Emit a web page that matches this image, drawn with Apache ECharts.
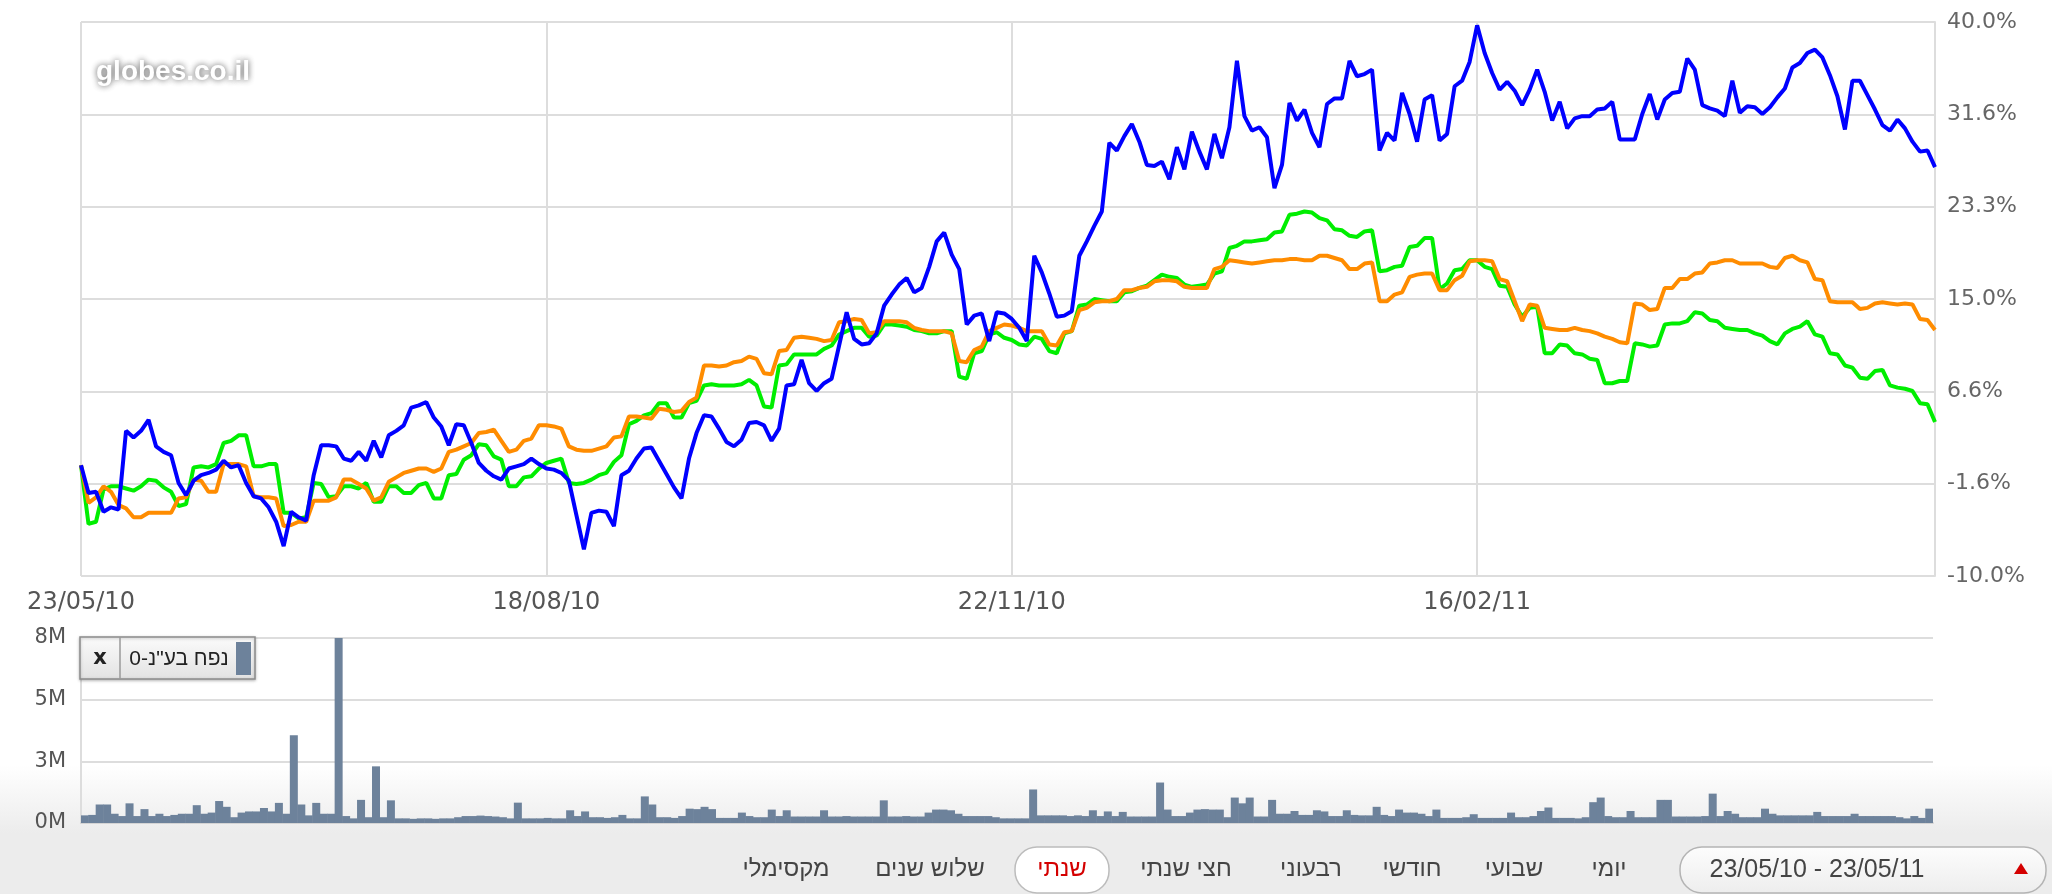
<!DOCTYPE html>
<html>
<head>
<meta charset="utf-8">
<title>globes - נפח ותשואה</title>
<script src="https://cdn.jsdelivr.net/npm/echarts@6/dist/echarts.min.js"></script>
<style>
  html, body { margin: 0; padding: 0; background: #fff; }
  #main { width: 2052px; height: 894px; }
</style>
</head>
<body>
<div id="main"></div>
<script type="text/javascript">
// tick labels
var dateTicks = ['23/05/10', '18/08/10', '22/11/10', '16/02/11'];
var pctTicks = ['-10.0%', '-1.6%', '6.6%', '15.0%', '23.3%', '31.6%', '40.0%'];
var volTicks = ['0M', '3M', '5M', '8M'];
var dayStep = 62; // trading days between date labels

// % change, blue line
var blueLine = [
  0.0, -2.5, -2.4, -4.2, -3.8, -4.0, 3.1, 2.5, 3.1, 4.1,
  1.7, 1.2, 0.9, -1.6, -2.7, -1.4, -0.9, -0.7, -0.4, 0.4,
  -0.2, 0.0, -1.6, -2.8, -3.0, -3.8, -5.1, -7.3, -4.2, -4.7,
  -5.0, -0.9, 1.8, 1.8, 1.7, 0.6, 0.4, 1.2, 0.4, 2.2,
  0.7, 2.7, 3.1, 3.6, 5.2, 5.4, 5.7, 4.3, 3.5, 1.8,
  3.7, 3.6, 2.0, 0.2, -0.5, -1.0, -1.3, -0.3, -0.1, 0.1,
  0.6, 0.1, -0.3,
  -0.4, -0.7, -1.4, -4.5, -7.6, -4.3, -4.1, -4.2, -5.5, -0.9,
  -0.5, 0.6, 1.5, 1.6, 0.4, -0.8, -2.0, -3.0, 0.6, 2.9,
  4.5, 4.4, 3.3, 2.1, 1.7, 2.3, 3.8, 3.9, 3.6, 2.2,
  3.3, 7.2, 7.3, 9.5, 7.4, 6.7, 7.4, 7.8, 10.8, 13.8,
  11.4, 10.9, 11.0, 11.9, 14.4, 15.4, 16.3, 16.9, 15.6, 16.0,
  17.9, 20.2, 21.0, 19.0, 17.7, 12.7, 13.5, 13.7, 11.2, 13.8,
  13.7, 13.2,
  12.4, 11.2, 18.9, 17.4, 15.5, 13.4, 13.5, 13.9, 18.9, 20.2,
  21.6, 22.9, 29.1, 28.4, 29.7, 30.8, 29.2, 27.1, 27.0, 27.4,
  25.8, 28.7, 26.7, 30.1, 28.3, 26.7, 29.9, 27.7, 30.5, 36.5,
  31.5, 30.2, 30.5, 29.6, 25.0, 27.1, 32.7, 31.1, 32.1, 30.0,
  28.7, 32.6, 33.1, 33.1, 36.5, 35.1, 35.3, 35.7, 28.4, 30.0,
  29.3, 33.6, 31.7, 29.2, 33.0, 33.4, 29.3, 29.9, 34.2, 34.7,
  36.4, 39.7,
  37.2, 35.4, 33.9, 34.6, 33.8, 32.5, 33.9, 35.7, 33.7, 31.1,
  32.8, 30.4, 31.3, 31.5, 31.5, 32.1, 32.2, 32.8, 29.4, 29.4,
  29.4, 31.7, 33.5, 31.2, 33.0, 33.6, 33.7, 36.7, 35.7, 32.5,
  32.2, 32.0, 31.5, 34.7, 31.8, 32.4, 32.3, 31.7, 32.3, 33.2,
  34.0, 35.9, 36.3, 37.2, 37.5, 36.8, 35.2, 33.3, 30.3, 34.7,
  34.7, 33.4, 32.1, 30.7, 30.2, 31.2, 30.4, 29.2, 28.3, 28.4,
  26.9
];

// % change, green line
var greenLine = [
  0.0, -5.3, -5.1, -2.2, -1.9, -1.9, -2.1, -2.3, -1.9, -1.3,
  -1.4, -2.0, -2.4, -3.7, -3.5, -0.2, -0.1, -0.2, 0.1, 2.0,
  2.2, 2.7, 2.7, -0.1, -0.1, 0.1, 0.1, -4.3, -4.3, -4.8,
  -4.7, -1.6, -1.7, -2.9, -2.8, -1.9, -1.9, -2.1, -1.6, -3.3,
  -3.3, -1.9, -1.9, -2.5, -2.5, -1.8, -1.6, -3.0, -3.0, -0.9,
  -0.8, 0.5, 0.9, 1.9, 1.8, 0.8, 0.5, -1.9, -1.9, -1.1,
  -1.0, -0.3, 0.2,
  0.4, 0.6, -1.6, -1.7, -1.6, -1.3, -0.9, -0.7, 0.3, 0.9,
  3.7, 4.0, 4.5, 4.7, 5.6, 5.6, 4.3, 4.3, 5.6, 5.8,
  7.2, 7.3, 7.2, 7.2, 7.2, 7.3, 7.7, 7.2, 5.3, 5.2,
  9.0, 9.1, 10.0, 10.0, 10.0, 10.0, 10.5, 10.8, 11.8, 12.1,
  12.4, 12.4, 11.6, 11.7, 12.7, 12.7, 12.6, 12.5, 12.2, 12.1,
  11.9, 11.9, 12.1, 12.1, 8.0, 7.8, 10.1, 10.3, 11.8, 12.0,
  11.5, 11.3,
  10.9, 10.8, 11.6, 11.4, 10.3, 10.1, 11.9, 12.1, 14.4, 14.5,
  15.0, 14.9, 14.8, 14.8, 15.6, 15.7, 16.0, 16.2, 16.7, 17.2,
  17.0, 16.9, 16.3, 16.1, 16.2, 16.3, 17.3, 17.5, 19.6, 19.8,
  20.2, 20.2, 20.3, 20.4, 21.0, 21.1, 22.6, 22.7, 22.9, 22.8,
  22.3, 22.1, 21.3, 21.2, 20.7, 20.6, 21.1, 21.2, 17.5, 17.6,
  17.9, 18.0, 19.7, 19.8, 20.5, 20.5, 15.9, 16.4, 17.6, 17.7,
  18.5, 18.5,
  17.9, 17.7, 16.2, 16.1, 14.5, 13.4, 14.2, 14.3, 10.1, 10.1,
  10.9, 10.8, 10.1, 10.0, 9.6, 9.5, 7.4, 7.4, 7.6, 7.6,
  11.0, 10.9, 10.7, 10.8, 12.7, 12.8, 12.8, 13.0, 13.8, 13.7,
  13.1, 13.0, 12.4, 12.3, 12.2, 12.2, 11.9, 11.7, 11.2, 10.9,
  11.9, 12.3, 12.5, 13.0, 11.8, 11.6, 10.1, 10.0, 9.0, 8.8,
  7.9, 7.8, 8.5, 8.6, 7.2, 7.0, 6.9, 6.7, 5.6, 5.5,
  3.9
];

// % change, orange line
var orangeLine = [
  0.0, -3.4, -2.9, -1.9, -2.4, -3.6, -3.9, -4.7, -4.7, -4.3,
  -4.3, -4.3, -4.3, -3.0, -2.9, -1.3, -1.4, -2.4, -2.4, 0.1,
  0.1, 0.1, -0.1, -2.8, -2.9, -2.9, -3.0, -5.5, -5.4, -5.1,
  -5.1, -3.2, -3.2, -3.2, -2.9, -1.3, -1.3, -1.7, -2.1, -3.2,
  -2.9, -1.5, -1.1, -0.7, -0.5, -0.3, -0.3, -0.6, -0.3, 1.2,
  1.4, 1.7, 2.0, 2.9, 3.0, 3.2, 2.2, 1.2, 1.4, 2.2,
  2.4, 3.6, 3.6,
  3.5, 3.3, 1.7, 1.4, 1.3, 1.3, 1.5, 1.7, 2.5, 2.6,
  4.4, 4.4, 4.3, 4.2, 5.1, 5.0, 4.8, 4.9, 5.7, 6.1,
  9.0, 9.0, 8.9, 9.0, 9.3, 9.4, 9.8, 9.6, 8.3, 8.2,
  10.3, 10.4, 11.5, 11.6, 11.5, 11.4, 11.2, 11.3, 12.9, 13.0,
  13.2, 13.1, 11.9, 12.0, 13.0, 13.0, 13.0, 12.9, 12.4, 12.2,
  12.1, 12.1, 12.1, 11.9, 9.4, 9.3, 10.4, 10.7, 12.1, 12.4,
  12.7, 12.6,
  12.4, 12.1, 12.1, 12.1, 10.9, 10.8, 12.0, 12.1, 14.0, 14.2,
  14.7, 14.8, 14.8, 15.0, 15.8, 15.8, 16.0, 16.1, 16.6, 16.7,
  16.7, 16.6, 16.1, 16.0, 16.0, 16.0, 17.7, 17.9, 18.5, 18.4,
  18.3, 18.2, 18.3, 18.4, 18.5, 18.5, 18.6, 18.6, 18.5, 18.5,
  18.9, 18.9, 18.7, 18.5, 17.7, 17.7, 18.2, 18.3, 14.8, 14.8,
  15.4, 15.6, 17.0, 17.2, 17.3, 17.3, 15.8, 15.8, 16.7, 17.1,
  18.4, 18.5,
  18.5, 18.4, 16.8, 16.6, 14.8, 13.0, 14.5, 14.4, 12.4, 12.3,
  12.2, 12.2, 12.4, 12.2, 12.1, 11.9, 11.6, 11.4, 11.1, 11.0,
  14.6, 14.5, 14.0, 14.1, 16.0, 16.0, 16.8, 16.8, 17.3, 17.4,
  18.2, 18.3, 18.5, 18.5, 18.2, 18.2, 18.2, 18.2, 17.9, 17.8,
  18.7, 18.9, 18.5, 18.3, 16.8, 16.7, 14.8, 14.7, 14.7, 14.7,
  14.1, 14.2, 14.6, 14.7, 14.6, 14.5, 14.6, 14.5, 13.2, 13.1,
  12.2
];

// daily volume, millions
var volume = [
  0.33, 0.35, 0.8, 0.8, 0.4, 0.3, 0.85, 0.3, 0.6, 0.3,
  0.4, 0.3, 0.35, 0.4, 0.4, 0.77, 0.4, 0.45, 0.95, 0.7,
  0.25, 0.45, 0.5, 0.5, 0.65, 0.5, 0.87, 0.4, 3.8, 0.8,
  0.33, 0.87, 0.4, 0.4, 8.0, 0.3, 0.2, 1.0, 0.25, 2.45,
  0.25, 0.98, 0.2, 0.2, 0.18, 0.2, 0.2, 0.18, 0.2, 0.2,
  0.25, 0.3, 0.3, 0.32, 0.3, 0.28, 0.25, 0.2, 0.88, 0.2,
  0.2, 0.2, 0.22, 0.2, 0.2, 0.55, 0.3, 0.5, 0.25, 0.25,
  0.22, 0.25, 0.35, 0.2, 0.2, 1.15, 0.8, 0.25, 0.25, 0.22,
  0.3, 0.62, 0.6, 0.7, 0.6, 0.22, 0.22, 0.22, 0.45, 0.3,
  0.25, 0.25, 0.58, 0.3, 0.55, 0.28, 0.28, 0.28, 0.28, 0.55,
  0.28, 0.28, 0.3, 0.28, 0.28, 0.28, 0.28, 0.98, 0.28, 0.28,
  0.3, 0.28, 0.28, 0.45, 0.58, 0.58, 0.55, 0.4, 0.3, 0.3,
  0.3, 0.3, 0.25, 0.2, 0.2, 0.2, 0.2, 1.45, 0.33, 0.33,
  0.33, 0.33, 0.3, 0.33, 0.3, 0.55, 0.3, 0.5, 0.3, 0.48,
  0.28, 0.28, 0.28, 0.28, 1.75, 0.58, 0.3, 0.3, 0.45, 0.58,
  0.6, 0.58, 0.58, 0.25, 1.1, 0.85, 1.1, 0.28, 0.28, 1.0,
  0.4, 0.4, 0.52, 0.35, 0.35, 0.55, 0.5, 0.3, 0.3, 0.55,
  0.35, 0.33, 0.33, 0.7, 0.35, 0.3, 0.58, 0.45, 0.45, 0.4,
  0.3, 0.58, 0.22, 0.22, 0.22, 0.25, 0.38, 0.22, 0.22, 0.22,
  0.22, 0.45, 0.25, 0.25, 0.3, 0.52, 0.67, 0.22, 0.22, 0.22,
  0.2, 0.25, 0.9, 1.1, 0.3, 0.25, 0.25, 0.52, 0.25, 0.25,
  0.25, 1.0, 1.0, 0.28, 0.28, 0.28, 0.28, 0.3, 1.27, 0.3,
  0.52, 0.4, 0.25, 0.25, 0.25, 0.62, 0.4, 0.33, 0.33, 0.33,
  0.33, 0.33, 0.48, 0.3, 0.3, 0.3, 0.3, 0.4, 0.3, 0.3,
  0.3, 0.3, 0.3, 0.25, 0.2, 0.3, 0.22, 0.62
];

var rangeButtons = ['מקסימלי', 'שלוש שנים', 'שנתי', 'חצי שנתי', 'רבעוני', 'חודשי', 'שבועי', 'יומי'];
var rangeX = [786, 930, 1062, 1186, 1311, 1412, 1514, 1609];
var activeRange = 'שנתי';
var rangeText = '23/05/10 - 23/05/11';
var volLegend = 'נפח בע"נ-0';

var days = [];
for (var i = 0; i < blueLine.length; i++) {
    days.push(i);
}

var gridColor = '#dddddd';
var volColor = '#6d829b';
var labelFont = 'DejaVu Sans';
var hebFont = 'Liberation Sans, DejaVu Sans, sans-serif';

var myChart = echarts.init(document.getElementById('main'), null, { renderer: 'canvas' });

var graphics = [
    // grey strip under the volume chart
    {
        type: 'rect', z: -5, silent: true,
        shape: { x: 0, y: 765, width: 2052, height: 68 },
        style: {
            fill: new echarts.graphic.LinearGradient(0, 0, 0, 1, [
                { offset: 0, color: 'rgba(236,236,236,0)' },
                { offset: 1, color: '#ececec' }
            ])
        }
    },
    {
        type: 'rect', z: -5, silent: true,
        shape: { x: 0, y: 833, width: 2052, height: 61 },
        style: { fill: '#ececec' }
    },
    // watermark
    {
        type: 'text', z: 5, silent: true,
        style: {
            x: 96, y: 72, text: 'globes.co.il',
            font: 'bold 28px Liberation Sans, Arial, sans-serif',
            fill: '#ffffff', verticalAlign: 'middle',
            textShadowColor: 'rgba(60,60,60,0.9)', textShadowBlur: 6
        }
    },
    // volume legend box
    {
        type: 'rect', z: 10,
        shape: { x: 80, y: 637, width: 175, height: 42 },
        style: {
            fill: new echarts.graphic.LinearGradient(0, 0, 0, 1, [
                { offset: 0, color: '#fbfbfb' },
                { offset: 1, color: '#e2e2e2' }
            ]),
            stroke: '#8c8c8c', lineWidth: 1.5,
            shadowColor: 'rgba(0,0,0,0.25)', shadowBlur: 3, shadowOffsetY: 1
        }
    },
    {
        type: 'line', z: 11,
        shape: { x1: 120, y1: 637, x2: 120, y2: 679 },
        style: { stroke: '#9a9a9a', lineWidth: 1.5 }
    },
    {
        type: 'text', z: 11,
        style: {
            x: 100, y: 659, text: 'x', font: 'bold 21px DejaVu Sans',
            fill: '#222', align: 'center', verticalAlign: 'middle'
        }
    },
    {
        type: 'text', z: 11,
        style: {
            x: 179, y: 659, text: volLegend, font: '21px ' + hebFont,
            fill: '#222', align: 'center', verticalAlign: 'middle'
        }
    },
    {
        type: 'rect', z: 11,
        shape: { x: 236, y: 642, width: 15, height: 33 },
        style: { fill: volColor }
    },
    // date range box
    {
        type: 'rect', z: 10,
        shape: { x: 1680, y: 847, width: 366, height: 46, r: 22 },
        style: {
            fill: new echarts.graphic.LinearGradient(0, 0, 0, 1, [
                { offset: 0, color: '#fdfdfd' },
                { offset: 1, color: '#ededed' }
            ]),
            stroke: '#b4b4b4', lineWidth: 1.5
        }
    },
    {
        type: 'text', z: 11,
        style: {
            x: 1817, y: 870, text: rangeText, font: '25px Liberation Sans, Arial, sans-serif',
            fill: '#444', align: 'center', verticalAlign: 'middle'
        }
    },
    {
        type: 'polygon', z: 11,
        shape: { points: [[2014, 874], [2028, 874], [2021, 863]] },
        style: { fill: '#d40000' }
    },
    // active button pill
    {
        type: 'rect', z: 10,
        shape: { x: 1015, y: 847, width: 94, height: 46, r: 22 },
        style: { fill: '#ffffff', stroke: '#bcbcbc', lineWidth: 1.5 }
    }
];

rangeButtons.forEach(function (name, k) {
    graphics.push({
        type: 'text', z: 11,
        style: {
            x: rangeX[k], y: 869, text: name, font: '24px ' + hebFont,
            fill: name === activeRange ? '#d40000' : '#444',
            align: 'center', verticalAlign: 'middle'
        }
    });
});

var option = {
    animation: false,
    backgroundColor: '#ffffff',
    grid: [
        { left: 81, right: 117, top: 22, height: 554 },
        { left: 81, right: 119, top: 638, height: 185 }
    ],
    xAxis: [
        {
            type: 'category', gridIndex: 0, data: days, boundaryGap: false,
            axisLine: { show: false },
            axisTick: { show: true, interval: dayStep - 1, length: 7, lineStyle: { color: gridColor, width: 2 } },
            axisLabel: {
                interval: dayStep - 1, margin: 15, color: '#555',
                fontFamily: labelFont, fontSize: 24,
                formatter: function (v) { return dateTicks[Math.round(v / dayStep)] || ''; }
            },
            splitLine: { show: true, interval: dayStep - 1, lineStyle: { color: gridColor, width: 2 } }
        },
        {
            type: 'category', gridIndex: 1, data: days, boundaryGap: true,
            axisLine: { show: true, lineStyle: { color: '#d4d4d4', width: 2 } },
            axisTick: { show: false },
            axisLabel: { show: false },
            splitLine: { show: false }
        }
    ],
    yAxis: [
        { type: 'value', gridIndex: 0, min: -10, max: 40, show: false },
        {
            type: 'category', gridIndex: 0, data: pctTicks, boundaryGap: false, position: 'right',
            axisLine: { show: true, lineStyle: { color: gridColor, width: 2 } },
            axisTick: { show: false },
            axisLabel: { color: '#666', fontFamily: labelFont, fontSize: 22, margin: 12 },
            splitLine: { show: true, lineStyle: { color: gridColor, width: 2 } }
        },
        { type: 'value', gridIndex: 1, min: 0, max: 8, show: false },
        {
            type: 'category', gridIndex: 1, data: volTicks, boundaryGap: false, position: 'left',
            axisLine: { show: true, lineStyle: { color: gridColor, width: 2 } },
            axisTick: { show: false },
            axisLabel: { color: '#555', fontFamily: labelFont, fontSize: 21, margin: 15 },
            splitLine: { show: true, lineStyle: { color: gridColor, width: 2 } }
        }
    ],
    series: [
        {
            name: 'green', type: 'line', xAxisIndex: 0, yAxisIndex: 0, data: greenLine,
            showSymbol: false, z: 3, lineStyle: { color: '#00ee00', width: 4 }
        },
        {
            name: 'orange', type: 'line', xAxisIndex: 0, yAxisIndex: 0, data: orangeLine,
            showSymbol: false, z: 4, lineStyle: { color: '#ff8c00', width: 4 }
        },
        {
            name: 'blue', type: 'line', xAxisIndex: 0, yAxisIndex: 0, data: blueLine,
            showSymbol: false, z: 5, lineStyle: { color: '#0000ff', width: 4 }
        },
        {
            name: volLegend, type: 'bar', xAxisIndex: 1, yAxisIndex: 2, data: volume,
            barWidth: 8, itemStyle: { color: volColor }
        }
    ],
    graphic: graphics
};

myChart.setOption(option);
</script>
</body>
</html>
